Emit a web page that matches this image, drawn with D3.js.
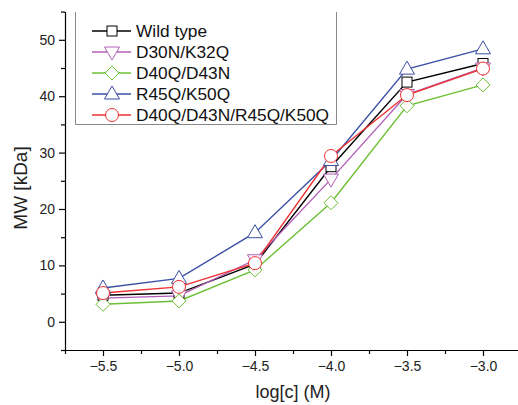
<!DOCTYPE html>
<html>
<head>
<meta charset="utf-8">
<script src="https://cdn.jsdelivr.net/npm/d3@7"></script>
<style>
  body { margin: 0; background: #fff; }
  svg { font-family: "Liberation Sans", Arial, sans-serif; }
  .axis path, .axis line { stroke: #000; stroke-width: 1.2px; }
  .axis text { fill: #222; font-size: 14px; }
</style>
</head>
<body>
<div id="chart"></div>
<script>
// data
var logc = [-5.5, -5.0, -4.5, -4.0, -3.5, -3.0];
var names = ['Wild type', 'D30N/K32Q', 'D40Q/D43N', 'R45Q/K50Q', 'D40Q/D43N/R45Q/K50Q'];
var wildType = [4.7, 5.1, 10.2, 27.5, 42.5, 45.8];
var d30n = [4.2, 4.6, 11.0, 25.3, 40.3, 45.0];
var d40q = [3.1, 3.7, 9.2, 21.1, 38.3, 42.0];
var r45q = [6.0, 7.7, 15.8, 28.6, 44.8, 48.4];
var quad = [5.1, 6.2, 10.4, 29.4, 40.2, 44.9];
var xTicks = [-5.5, -5.0, -4.5, -4.0, -3.5, -3.0];
var yTicks = [0, 10, 20, 30, 40, 50];

var series = [
  {name: names[0], values: wildType, color: '#000000', shape: 'square'},
  {name: names[1], values: d30n, color: '#b25fb5', shape: 'down'},
  {name: names[2], values: d40q, color: '#6cbf34', shape: 'diamond'},
  {name: names[3], values: r45q, color: '#3a4fa5', shape: 'up'},
  {name: names[4], values: quad, color: '#ef3030', shape: 'circle'}
];

var width = 518, height = 405;
var margin = {top: 11.6, left: 65, bottom: 55};

var svg = d3.select('#chart').append('svg')
    .attr('width', width)
    .attr('height', height);

var x = d3.scaleLinear().domain([-5.75, -2.75]).range([margin.left, margin.left + 3 * 152]);
var y = d3.scaleLinear().domain([-5, 55]).range([height - margin.bottom, margin.top]);

// minor ticks
svg.append('g')
    .attr('class', 'axis')
    .attr('transform', 'translate(0,' + y(-5) + ')')
    .call(d3.axisBottom(x).tickValues([-5.75, -5.25, -4.75, -4.25, -3.75, -3.25, -2.75]).tickSize(4).tickFormat(''))
    .select('.domain').remove();
svg.append('g')
    .attr('class', 'axis')
    .attr('transform', 'translate(' + x(-5.75) + ',0)')
    .call(d3.axisLeft(y).tickValues([-5, 5, 15, 25, 35, 45, 55]).tickSize(4).tickFormat(''))
    .select('.domain').remove();

// main axes
svg.append('g')
    .attr('class', 'axis')
    .attr('transform', 'translate(0,' + y(-5) + ')')
    .call(d3.axisBottom(x).tickValues(xTicks).tickSize(6).tickSizeOuter(0).tickPadding(5).tickFormat(d3.format('.1f')));

svg.append('g')
    .attr('class', 'axis')
    .attr('transform', 'translate(' + x(-5.75) + ',0)')
    .call(d3.axisLeft(y).tickValues(yTicks).tickSize(6).tickSizeOuter(0).tickPadding(4));

// axis titles
svg.append('text')
    .attr('x', x(-4.25))
    .attr('y', 398)
    .attr('text-anchor', 'middle')
    .style('font-size', '18px')
    .style('fill', '#222')
    .text('log[c] (M)');

svg.append('text')
    .attr('transform', 'translate(27,188) rotate(-90)')
    .attr('text-anchor', 'middle')
    .style('font-size', '19px')
    .style('fill', '#222')
    .text('MW [kDa]');

function marker(g, shape, color) {
  if (shape == 'square') {
    g.append('rect').attr('x', -5).attr('y', -5).attr('width', 10).attr('height', 10);
  } else if (shape == 'circle') {
    g.append('circle').attr('r', 6.5);
  } else if (shape == 'up') {
    g.append('path').attr('d', 'M0,-8L7.5,5L-7.5,5Z');
  } else if (shape == 'down') {
    g.append('path').attr('d', 'M0,8L7.5,-5L-7.5,-5Z');
  } else {
    g.append('path').attr('d', 'M0,-7L7,0L0,7L-7,0Z');
  }
  g.selectAll('*')
    .style('fill', '#fff')
    .style('stroke', color)
    .style('stroke-width', '1px');
}

var valueline = d3.line()
    .x(function(d, i) { return x(logc[i]); })
    .y(function(d) { return y(d); });

// lines first, then markers on top
series.forEach(function(s) {
  svg.append('path')
    .datum(s.values)
    .attr('d', valueline)
    .style('fill', 'none')
    .style('stroke', s.color)
    .style('stroke-width', '1.4px');
});
series.forEach(function(s) {
  s.values.forEach(function(v, i) {
    var g = svg.append('g').attr('transform', 'translate(' + x(logc[i]) + ',' + y(v) + ')');
    marker(g, s.shape, s.color);
  });
});

// legend (box open at the top, as in the original)
svg.append('rect')
    .attr('x', 75.5)
    .attr('y', 12)
    .attr('width', 261)
    .attr('height', 112)
    .style('fill', '#fff');
svg.append('path')
    .attr('d', 'M75.5,12V124.5H336.5V12')
    .style('fill', 'none')
    .style('stroke', '#888')
    .style('stroke-width', '1px');

series.forEach(function(s, i) {
  var ly = 31 + i * 21;
  svg.append('line')
    .attr('x1', 92).attr('x2', 131)
    .attr('y1', ly).attr('y2', ly)
    .style('stroke', s.color)
    .style('stroke-width', '1.4px');
  var g = svg.append('g').attr('transform', 'translate(112,' + ly + ')');
  marker(g, s.shape, s.color);
  svg.append('text')
    .attr('x', 136)
    .attr('y', ly)
    .attr('dy', '.35em')
    .style('font-size', '17.3px')
    .style('fill', '#111')
    .text(s.name);
});
</script>
</body>
</html>
